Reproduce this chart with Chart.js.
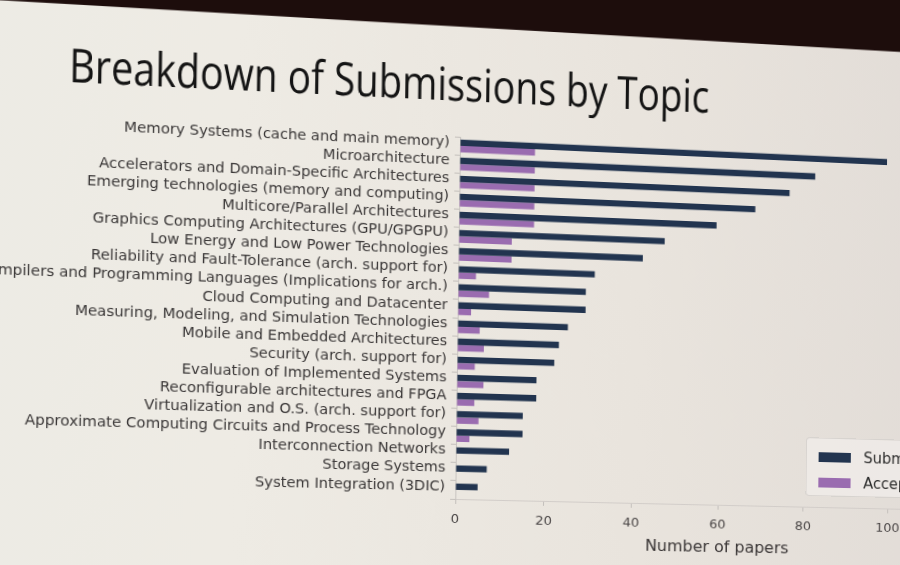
<!DOCTYPE html>
<html>
<head>
<meta charset="utf-8">
<script src="https://cdn.jsdelivr.net/npm/chart.js@4.4.1/dist/chart.umd.min.js"></script>
<style>
  html, body { margin:0; padding:0; width:900px; height:565px; overflow:hidden; background:#e9e6df; }
  #stage { position:absolute; left:0; top:0; width:1000px; height:600px; transform-origin:0 0; }
  #bg { position:absolute; left:-150px; top:-150px; width:1300px; height:900px;
        background: linear-gradient(90deg, #ecebe5 0%, #eeebe4 30%, #e9e4dd 60%, #ddd7d3 100%); }
  #band { position:absolute; left:-150px; top:-150px; width:1300px; height:174px; background:#1d0d0c;
          transform-origin:0 100%; transform: rotate(0.25deg); }
  #title { position:absolute; left:84px; top:60px; font-family:"Open Sans", sans-serif; font-size:46px;
           line-height:46px; color:#141414; white-space:nowrap; transform-origin:0 50%; }
  #chart { position:absolute; left:0; top:0; }
  #legend { position:absolute; left:806px; top:428px; width:200px; height:58px; border-radius:4px;
            background:rgba(245,243,240,0.55); border:1px solid rgba(200,196,192,0.6);
            font-family:"DejaVu Sans", sans-serif; font-size:15px; color:#2b2b2b; }
  .item { position:absolute; left:12px; height:20px; line-height:20px; white-space:nowrap; }
  .sw { display:inline-block; width:33px; height:10px; vertical-align:middle; margin-right:13px; position:relative; top:-1px; }
</style>
</head>
<body>
<div id="stage">
  <div id="bg"></div>
  <div id="band"></div>
  <div id="title">Breakdown of Submissions by Topic</div>
  <canvas id="chart" width="1000" height="600"></canvas>
  <div id="legend"></div>
</div>
<script>
const categories = [
  "Memory Systems (cache and main memory)",
  "Microarchitecture",
  "Accelerators and Domain-Specific Architectures",
  "Emerging technologies (memory and computing)",
  "Multicore/Parallel Architectures",
  "Graphics Computing Architectures (GPU/GPGPU)",
  "Low Energy and Low Power Technologies",
  "Reliability and Fault-Tolerance (arch. support for)",
  "Compilers and Programming Languages (Implications for arch.)",
  "Cloud Computing and Datacenter",
  "Measuring, Modeling, and Simulation Technologies",
  "Mobile and Embedded Architectures",
  "Security (arch. support for)",
  "Evaluation of Implemented Systems",
  "Reconfigurable architectures and FPGA",
  "Virtualization and O.S. (arch. support for)",
  "Approximate Computing Circuits and Process Technology",
  "Interconnection Networks",
  "Storage Systems",
  "System Integration (3DIC)"
];
const submitted = [99, 82, 76, 68, 59, 47, 42, 31, 29, 29, 25, 23, 22, 18, 18, 15, 15, 12, 7, 5];
const accepted  = [17, 17, 17, 17, 17, 12, 12, 4, 7, 3, 5, 6, 4, 6, 4, 5, 3, 0, 0, 0];
const seriesNames = ["Submitted", "Accepted"];
const seriesColors = ["#22344f", "#9a6cb0"];
const xTicks = { min: 0, max: 120, step: 20 };
const xTitle = "Number of papers";
const chartTitle = "Breakdown of Submissions by Topic";

document.getElementById('title').textContent = chartTitle;

const labelFont = { family: "DejaVu Sans", size: 14 };
const tickFont = { family: "DejaVu Sans", size: 13 };

const chart = new Chart(document.getElementById('chart'), {
  type: 'bar',
  data: {
    labels: categories,
    datasets: [
      { label: seriesNames[0], data: submitted, backgroundColor: seriesColors[0] },
      { label: seriesNames[1], data: accepted, backgroundColor: seriesColors[1] }
    ]
  },
  options: {
    indexAxis: 'y',
    responsive: false,
    animation: false,
    devicePixelRatio: 1,
    categoryPercentage: 0.7,
    barPercentage: 1.0,
    layout: { padding: { top: 137, right: 23, bottom: 48, left: 0 } },
    plugins: { legend: { display: false }, tooltip: { enabled: false } },
    scales: {
      x: {
        type: 'linear', min: xTicks.min, max: xTicks.max,
        ticks: { stepSize: xTicks.step, font: tickFont, color: '#4a4646', padding: 8 },
        grid: { drawOnChartArea: false, drawTicks: true, tickLength: 5, color: '#c4c0bc' },
        border: { color: '#d2cdc9' },
        title: { display: true, text: xTitle, font: { family: "DejaVu Sans", size: 16 }, color: '#3a3636', padding: 0 },
        afterFit: s => { s.height = 53; }
      },
      y: {
        type: 'category',
        ticks: { font: labelFont, color: '#3a3737', padding: 5, labelOffset: -3, autoSkip: false },
        grid: { drawOnChartArea: false, drawTicks: true, tickLength: 5, color: '#c4c0bc' },
        border: { color: '#c9c5c1' },
        afterFit: s => { s.width = 457; }
      }
    }
  }
});

// HTML legend built from the datasets
const lg = document.getElementById('legend');
chart.data.datasets.forEach((ds, i) => {
  const it = document.createElement('div');
  it.className = 'item';
  it.style.top = (9 + i * 26) + 'px';
  const sw = document.createElement('span');
  sw.className = 'sw';
  sw.style.background = ds.backgroundColor;
  it.appendChild(sw);
  it.appendChild(document.createTextNode(ds.label));
  lg.appendChild(it);
});

// fit title width
const t = document.getElementById('title');
t.style.transform = 'scaleX(' + (620 / t.offsetWidth) + ')';

// photo perspective: map flat layout onto the slanted photo
function solve(A, b) {
  const n = b.length;
  for (let i = 0; i < n; i++) {
    let p = i;
    for (let r = i + 1; r < n; r++) if (Math.abs(A[r][i]) > Math.abs(A[p][i])) p = r;
    [A[i], A[p]] = [A[p], A[i]]; [b[i], b[p]] = [b[p], b[i]];
    for (let r = i + 1; r < n; r++) {
      const f = A[r][i] / A[i][i];
      for (let c = i; c < n; c++) A[r][c] -= f * A[i][c];
      b[r] -= f * b[i];
    }
  }
  const x = new Array(n).fill(0);
  for (let i = n - 1; i >= 0; i--) {
    let s = b[i];
    for (let c = i + 1; c < n; c++) s -= A[i][c] * x[c];
    x[i] = s / A[i][i];
  }
  return x;
}
function homography(src, dst) {
  const A = [], b = [];
  for (let i = 0; i < 4; i++) {
    const [x, y] = src[i], [u, v] = dst[i];
    A.push([x, y, 1, 0, 0, 0, -u * x, -u * y]); b.push(u);
    A.push([0, 0, 0, x, y, 1, -v * x, -v * y]); b.push(v);
  }
  return solve(A, b);
}
const flatPts  = [[457, 143.5], [886, 143.5], [457, 518], [890, 518]];
const photoPts = [[460, 143.3], [887, 162.7], [455, 518], [887, 527]];
const h = homography(flatPts, photoPts);
document.getElementById('stage').style.transform =
  `matrix3d(${h[0]},${h[3]},0,${h[6]},${h[1]},${h[4]},0,${h[7]},0,0,1,0,${h[2]},${h[5]},0,1)`;
</script>
</body>
</html>
